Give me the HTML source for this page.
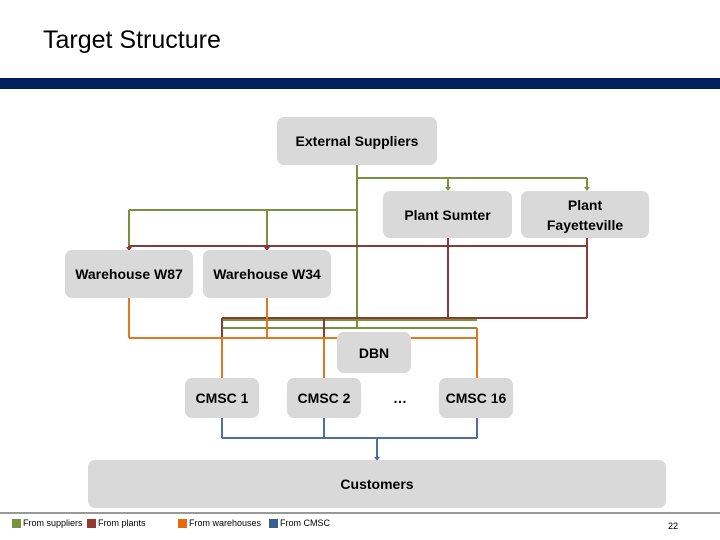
<!DOCTYPE html><html><head><style>
body{margin:0;width:720px;height:540px;background:#fff;position:relative;overflow:hidden;font-family:"Liberation Sans",sans-serif}
.b{position:absolute;background:#d9d9d9;border-radius:7px;display:flex;align-items:center;justify-content:center;text-align:center;font-size:14px;font-weight:bold;color:#000;line-height:20px}
.l{position:absolute;font-size:9px;color:#000;top:518px}
.s{position:absolute;width:9px;height:9px;top:519px}
</style></head><body>
<div style="position:absolute;left:43px;top:26px;font-size:25px">Target Structure</div>
<div style="position:absolute;left:0;top:78px;width:720px;height:11px;background:#002060"></div>
<svg style="position:absolute;left:0;top:0" width="720" height="540">
<g fill="none" stroke-width="2">
<path stroke="#77933c" d="M357 165V328M357 178H587M448 178V190M587 178V190M129 210H357M129 210V250M267 210V250M222 320H477M222 328H477"/>
<path stroke="#8b3a3a" d="M129 246H587M129 246V250M267 246V250M448 238V318M587 238V318M222 318H587M222 318V340M324 318V340"/>
<path stroke="#e07820" d="M129 298V338M267 298V338M129 338H477M222 338V390M324 338V390M477 328V390"/>
<path stroke="#4f6f9f" d="M222 418V438M324 418V438M477 418V438M222 438H477M377 438V460"/>
<path stroke="#999" d="M0 513H720"/>
</g>
<g>
<path fill="#77933c" d="M445 187h6l-3 4zM584 187h6l-3 4z"/>
<path fill="#8b3a3a" d="M126 247h6l-3 4zM264 247h6l-3 4z"/>
<path fill="#e07820" d="M219 387h6l-3 4zM321 387h6l-3 4zM474 387h6l-3 4z"/>
<path fill="#4f6f9f" d="M374 457h6l-3 4z"/>
</g>
</svg>
<div class="b" style="left:277px;top:117px;width:160px;height:48px">External Suppliers</div>
<div class="b" style="left:383px;top:191px;width:129px;height:47px">Plant Sumter</div>
<div class="b" style="left:521px;top:191px;width:128px;height:47px">Plant<br>Fayetteville</div>
<div class="b" style="left:65px;top:250px;width:128px;height:48px">Warehouse W87</div>
<div class="b" style="left:203px;top:250px;width:128px;height:48px">Warehouse W34</div>
<div class="b" style="left:337px;top:332px;width:74px;height:41px">DBN</div>
<div class="b" style="left:185px;top:378px;width:74px;height:40px">CMSC 1</div>
<div class="b" style="left:287px;top:378px;width:74px;height:40px">CMSC 2</div>
<div class="b" style="left:370px;top:378px;width:60px;height:40px;background:none">…</div>
<div class="b" style="left:439px;top:378px;width:74px;height:40px">CMSC 16</div>
<div class="b" style="left:88px;top:460px;width:578px;height:48px">Customers</div>
<div class="s" style="left:12px;background:#77933c"></div><div class="l" style="left:23px">From suppliers</div>
<div class="s" style="left:87px;background:#953735"></div><div class="l" style="left:98px">From plants</div>
<div class="s" style="left:178px;background:#e46c0a"></div><div class="l" style="left:189px">From warehouses</div>
<div class="s" style="left:269px;background:#376092"></div><div class="l" style="left:280px">From CMSC</div>
<div class="l" style="left:668px;top:521px">22</div>
</body></html>
